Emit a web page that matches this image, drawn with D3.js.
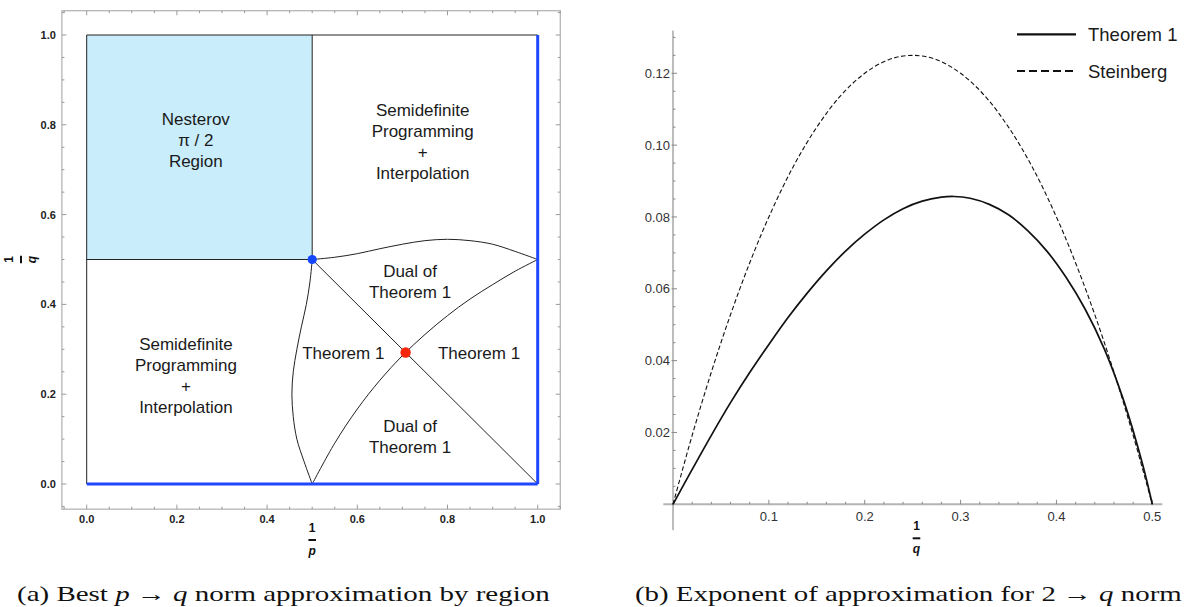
<!DOCTYPE html>
<html><head><meta charset="utf-8">
<script src="https://cdn.jsdelivr.net/npm/d3@7/dist/d3.min.js"></script>
<style>body{margin:0;background:#fff}svg{display:block}</style>
</head><body>
<svg id="chart" width="1184" height="607"></svg>
<script>
// ---------------- DATA ----------------
// Panel (a): regions in the (1/p, 1/q) square
const leftTickValues = [0, 0.2, 0.4, 0.6, 0.8, 1.0];
const leftTickLabels = ["0.0", "0.2", "0.4", "0.6", "0.8", "1.0"];
const leftFrameX = [-0.055, 1.05];
const leftFrameY = [-0.056, 1.054];
const nesterovRegion = [[0, 0.5], [0.5, 1]];          // [x0,y0],[x1,y1]
const blackEdges = [
  [[0, 0], [0, 1]], [[0, 1], [1, 1]],
  [[0.5, 0.5], [0.5, 1]], [[0, 0.5], [0.5, 0.5]],
  [[0.5, 0.5], [1, 0]]
];
const blueEdges = [[[0, 0], [1, 0]], [[1, 0], [1, 1]]];
const curveLeft = [[0.5,0],[0.482,0.05],[0.466,0.1],[0.458,0.15],[0.455,0.2],[0.458,0.25],[0.466,0.3],[0.476,0.35],[0.487,0.4],[0.495,0.45],[0.5,0.5]];
const curveTop = [[0.5,0.5],[0.55,0.505],[0.6,0.513],[0.65,0.524],[0.7,0.534],[0.75,0.542],[0.8,0.545],[0.85,0.542],[0.9,0.534],[0.95,0.518],[1,0.5]];
const curveMiddle = [[0.5,0],[0.55,0.091],[0.6,0.167],[0.65,0.231],[0.7,0.286],[0.75,0.333],[0.8,0.375],[0.85,0.412],[0.9,0.444],[0.95,0.474],[1,0.5]];
const bluePoint = [0.5, 0.5];
const redPoint = [0.7071, 0.2929];
const regionLabels = [
  {lines: ["Nesterov", "π / 2", "Region"], x: 0.242, y: 0.766},
  {lines: ["Semidefinite", "Programming", "+", "Interpolation"], x: 0.745, y: 0.7635},
  {lines: ["Semidefinite", "Programming", "+", "Interpolation"], x: 0.22, y: 0.2416},
  {lines: ["Dual of", "Theorem 1"], x: 0.717, y: 0.451},
  {lines: ["Theorem 1"], x: 0.569, y: 0.291},
  {lines: ["Theorem 1"], x: 0.87, y: 0.291},
  {lines: ["Dual of", "Theorem 1"], x: 0.717, y: 0.1065}
];

// Panel (b): exponent of approximation for 2 -> q norms
const invQ_theorem1 = [0,0.02,0.04,0.06,0.08,0.1,0.12,0.14,0.16,0.18,0.2,0.22,0.24,0.26,0.28,0.293,0.31,0.33,0.35,0.37,0.39,0.41,0.43,0.45,0.47,0.49,0.5];
const theorem1 = [0,0.0097,0.0192,0.0283,0.0367,0.0445,0.0520,0.0588,0.0650,0.0705,0.0752,0.0792,0.0823,0.0844,0.0855,0.0857,0.0852,0.0835,0.0806,0.0762,0.0705,0.0632,0.0543,0.0432,0.0290,0.0110,0];
const invQ_steinberg = [0,0.02,0.04,0.06,0.08,0.1,0.125,0.15,0.175,0.2,0.225,0.25,0.275,0.3,0.325,0.35,0.375,0.4,0.42,0.44,0.46,0.48,0.5];
const steinberg = [0,0.0192,0.0368,0.0528,0.0672,0.08,0.0938,0.105,0.1138,0.12,0.1238,0.125,0.1238,0.12,0.1138,0.105,0.0938,0.08,0.0672,0.0528,0.0368,0.0192,0];
const rightXTicks = [0.1, 0.2, 0.3, 0.4, 0.5];
const rightXTickLabels = ["0.1", "0.2", "0.3", "0.4", "0.5"];
const rightYTicks = [0.02, 0.04, 0.06, 0.08, 0.10, 0.12];
const rightYTickLabels = ["0.02", "0.04", "0.06", "0.08", "0.10", "0.12"];
const rightAxisX = [-0.0101, 0.5105];
const rightAxisY = [-0.0072, 0.1319];
const legendLabels = ["Theorem 1", "Steinberg"];

const captionA = [["(a) Best ", false], ["p", true], [" → ", false], ["q", true], [" norm approximation by region", false]];
const captionB = [["(b) Exponent of approximation for 2 → ", false], ["q", true], [" norm", false]];

// ---------------- DRAW ----------------
const svg = d3.select("#chart");
const sans = "'Liberation Sans', Arial, Helvetica, sans-serif";

// ===== Panel (a) =====
const xL = d3.scaleLinear().domain([0, 1]).range([86.7, 537.7]);
const yL = d3.scaleLinear().domain([0, 1]).range([484, 35]);
const gA = svg.append("g");

gA.append("rect")
  .attr("x", xL(nesterovRegion[0][0])).attr("y", yL(nesterovRegion[1][1]))
  .attr("width", xL(nesterovRegion[1][0]) - xL(nesterovRegion[0][0]))
  .attr("height", yL(nesterovRegion[0][1]) - yL(nesterovRegion[1][1]))
  .attr("fill", "#c9edfb");

const fx0 = xL(leftFrameX[0]), fx1 = xL(leftFrameX[1]), fy0 = yL(leftFrameY[0]), fy1 = yL(leftFrameY[1]);
gA.append("rect").attr("x", fx0).attr("y", fy1).attr("width", fx1 - fx0).attr("height", fy0 - fy1)
  .attr("fill", "none").attr("stroke", "#a8a8a8").attr("stroke-width", 1.1);

const minorL = d3.range(-1, 22).map(i => i * 0.05).filter(v => v >= leftFrameX[0] - 1e-9 && v <= leftFrameX[1] + 1e-9);
const isMajor = v => Math.abs(v * 5 - Math.round(v * 5)) < 1e-6 && v >= -1e-9 && v <= 1 + 1e-9;
const tickG = gA.append("g").attr("stroke", "#9a9a9a").attr("stroke-width", 1);
minorL.forEach(v => {
  const len = isMajor(v) ? 4.5 : 2.5;
  const px = xL(v);
  tickG.append("line").attr("x1", px).attr("x2", px).attr("y1", fy0).attr("y2", fy0 - len);
  tickG.append("line").attr("x1", px).attr("x2", px).attr("y1", fy1).attr("y2", fy1 + len);
});
minorL.filter(v => v <= leftFrameY[1]).forEach(v => {
  const len = isMajor(v) ? 4.5 : 2.5;
  const py = yL(v);
  tickG.append("line").attr("y1", py).attr("y2", py).attr("x1", fx0).attr("x2", fx0 + len);
  tickG.append("line").attr("y1", py).attr("y2", py).attr("x1", fx1).attr("x2", fx1 - len);
});
leftTickValues.forEach((v, i) => {
  gA.append("text").attr("x", xL(v)).attr("y", fy0 + 14)
    .attr("text-anchor", "middle").attr("font-family", sans).attr("font-weight", "bold")
    .attr("font-size", 11).attr("fill", "#222").text(leftTickLabels[i]);
  gA.append("text").attr("x", fx0 - 6).attr("y", yL(v) + 4)
    .attr("text-anchor", "end").attr("font-family", sans).attr("font-weight", "bold")
    .attr("font-size", 11).attr("fill", "#222").text(leftTickLabels[i]);
});

const lineL = d3.line().x(d => xL(d[0])).y(d => yL(d[1]));
const curveL = d3.line().x(d => xL(d[0])).y(d => yL(d[1])).curve(d3.curveCatmullRom.alpha(0.5));
blackEdges.forEach(e => gA.append("path").attr("d", lineL(e)).attr("fill", "none").attr("stroke", "#222").attr("stroke-width", 1));
[curveLeft, curveTop, curveMiddle].forEach(c => gA.append("path").attr("d", curveL(c)).attr("fill", "none").attr("stroke", "#222").attr("stroke-width", 1));
blueEdges.forEach(e => gA.append("path").attr("d", lineL(e)).attr("fill", "none").attr("stroke", "#1f47ff").attr("stroke-width", 3));

gA.append("circle").attr("cx", xL(bluePoint[0])).attr("cy", yL(bluePoint[1])).attr("r", 4.6).attr("fill", "#1446ff");
gA.append("circle").attr("cx", xL(redPoint[0])).attr("cy", yL(redPoint[1])).attr("r", 5.2).attr("fill", "#f5260c");

regionLabels.forEach(r => {
  const n = r.lines.length;
  const t = gA.append("text").attr("text-anchor", "middle").attr("font-family", sans)
    .attr("font-size", 17).attr("fill", "#1a1a1a");
  r.lines.forEach((ln, i) => {
    t.append("tspan").attr("x", xL(r.x)).attr("y", yL(r.y) + (i - (n - 1) / 2) * 21 + 6).text(ln);
  });
});

function fraction(g, cx, cy, den, rotate) {
  const fg = g.append("g").attr("transform", `translate(${cx},${cy})` + (rotate ? " rotate(-90)" : ""));
  fg.append("text").attr("x", 0).attr("y", -8).attr("text-anchor", "middle").attr("font-family", sans)
    .attr("font-weight", "bold").attr("font-size", 12).attr("fill", "#111").text("1");
  fg.append("line").attr("x1", -3.8).attr("x2", 3.8).attr("y1", 0).attr("y2", 0).attr("stroke", "#111").attr("stroke-width", 2);
  fg.append("text").attr("x", 0).attr("y", 15).attr("text-anchor", "middle").attr("font-family", sans)
    .attr("font-weight", "bold").attr("font-style", "italic").attr("font-size", 12).attr("fill", "#111").text(den);
}
fraction(gA, xL(0.5), 540, "p", false);
fraction(gA, 21, yL(0.5), "q", true);

// ===== Panel (b) =====
const xR = d3.scaleLinear().domain([0, 0.5]).range([673, 1152.3]);
const yR = d3.scaleLinear().domain([0, 0.12]).range([504.3, 73.3]);
const gB = svg.append("g");

gB.append("line").attr("x1", xR(rightAxisX[0])).attr("x2", xR(rightAxisX[1])).attr("y1", yR(0)).attr("y2", yR(0))
  .attr("stroke", "#b4b4b4").attr("stroke-width", 2);
gB.append("line").attr("x1", xR(0)).attr("x2", xR(0)).attr("y1", yR(rightAxisY[0])).attr("y2", yR(rightAxisY[1]))
  .attr("stroke", "#7a7a7a").attr("stroke-width", 1);
const rt = gB.append("g").attr("stroke", "#8a8a8a").attr("stroke-width", 1);
d3.range(1, 26).map(i => i * 0.02).forEach(v => {
  const major = Math.abs(v * 10 - Math.round(v * 10)) < 1e-6;
  rt.append("line").attr("x1", xR(v)).attr("x2", xR(v)).attr("y1", yR(0)).attr("y2", yR(0) - (major ? 4.5 : 2.5));
});
d3.range(1, 27).map(i => i * 0.005).forEach(v => {
  const major = Math.abs(v * 50 - Math.round(v * 50)) < 1e-6;
  rt.append("line").attr("y1", yR(v)).attr("y2", yR(v)).attr("x1", xR(0) - (major ? 1.5 : 0)).attr("x2", xR(0) + (major ? 4 : 2.5));
});
rightXTicks.forEach((v, i) => {
  gB.append("text").attr("x", xR(v)).attr("y", yR(0) + 17).attr("text-anchor", "middle")
    .attr("font-family", sans).attr("font-size", 13).attr("fill", "#333").text(rightXTickLabels[i]);
});
rightYTicks.forEach((v, i) => {
  gB.append("text").attr("x", xR(0) - 3).attr("y", yR(v) + 4.6).attr("text-anchor", "end")
    .attr("font-family", sans).attr("font-size", 13).attr("fill", "#333").text(rightYTickLabels[i]);
});

const lineR = d3.line().x(d => xR(d[0])).y(d => yR(d[1])).curve(d3.curveCatmullRom.alpha(0.5));
gB.append("path").attr("d", lineR(invQ_steinberg.map((x, i) => [x, steinberg[i]])))
  .attr("fill", "none").attr("stroke", "#111").attr("stroke-width", 1.1).attr("stroke-dasharray", "4.5,2.5");
gB.append("path").attr("d", lineR(invQ_theorem1.map((x, i) => [x, theorem1[i]])))
  .attr("fill", "none").attr("stroke", "#111").attr("stroke-width", 1.7);

fraction(gB, xR(0.254), 538.3, "q", false);

const legY = [34.3, 71];
legendLabels.forEach((lab, i) => {
  gB.append("line").attr("x1", 1017).attr("x2", 1076).attr("y1", legY[i]).attr("y2", legY[i])
    .attr("stroke", "#111").attr("stroke-width", 2.2)
    .attr("stroke-dasharray", i === 1 ? "8,4" : null);
  gB.append("text").attr("x", 1088).attr("y", legY[i] + 7).attr("font-family", sans)
    .attr("font-size", 18.5).attr("fill", "#1a1a1a").text(lab);
});

// ===== Captions =====
const serif = "'Liberation Serif', 'Times New Roman', serif";
function caption(parts) {
  const t = svg.append("text").attr("x", 0).attr("y", 0).attr("font-family", serif)
    .attr("font-size", 21).attr("fill", "#111");
  parts.forEach(p => t.append("tspan").attr("font-style", p[1] ? "italic" : "normal").text(p[0]));
  return t;
}
const capA = caption(captionA);
const wA = capA.node().getComputedTextLength();
const sx = 533 / wA;
capA.attr("transform", `translate(17,601) scale(${sx},1)`);
const capB = caption(captionB);
const wB = capB.node().getComputedTextLength();
const sxB = Math.min(sx, (1182 - 635) / wB);
capB.attr("transform", `translate(635,601) scale(${sxB},1)`);
</script>
</body></html>
